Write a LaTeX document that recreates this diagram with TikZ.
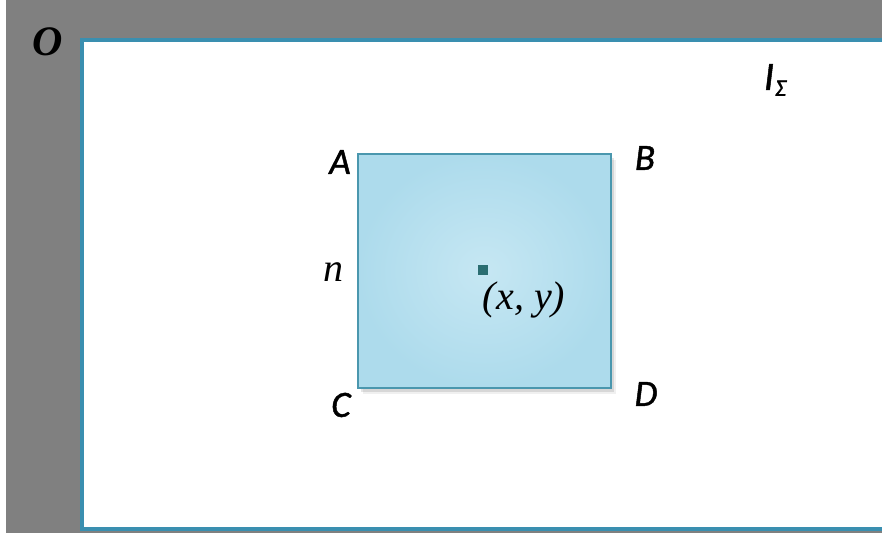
\documentclass[tikz,border=0pt]{standalone}
\usepackage{fontspec}
\newfontfamily\calfont[FakeBold=1.2]{Carlito}
\newfontfamily\serfont{Liberation Serif}
\definecolor{bggray}{HTML}{808080}
\definecolor{frameblue}{HTML}{3A8FB0}
\definecolor{sqedge}{HTML}{4A97AE}
\definecolor{sqin}{HTML}{C6E7F3}
\definecolor{sqout}{HTML}{ADDBEC}
\definecolor{dotc}{HTML}{2B6E72}
\tikzset{
  cornerlbl/.style={font=\calfont\itshape\fontsize{37}{37}\selectfont, inner sep=0pt},
  serlbl/.style={font=\serfont\itshape\fontsize{40}{40}\selectfont, inner sep=0pt},
}
\begin{document}
\begin{tikzpicture}[x=1pt,y=-1pt]
\useasboundingbox (0,0) rectangle (882,533);
\fill[white] (0,0) rectangle (882,533);
\fill[bggray] (6,0) rectangle (882,533);
\draw[frameblue, line width=4pt, fill=white] (82,40) rectangle (890,529);
% shadow
\fill[black, opacity=0.10] (361,158) rectangle (614,392);
\fill[black, opacity=0.06] (363,160) rectangle (616,394);
\node[draw=sqedge, line width=1.5pt, inner color=sqin, outer color=sqout,
      minimum width=253pt, minimum height=234pt, anchor=north west, inner sep=0pt]
      (sq) at (357,153) {};
\fill[dotc] (478,265) rectangle (488,275);
\coordinate (p) at (483,270);
\node[serlbl] (xy) at (524,300) {(x, y)};
\node[serlbl] (n) at (333,272) {n};
\node[cornerlbl] (A) at (340,162) {A};
\node[cornerlbl] (B) at (645,158) {B};
\node[cornerlbl] (C) at (341,405) {C};
\node[cornerlbl] (D) at (646,394) {D};
\node[font=\calfont\itshape\fontsize{40}{40}\selectfont, inner sep=0pt] (I) at (775,80) {I\kern1pt\raisebox{-6pt}{\fontsize{24}{24}\selectfont Σ}};
\node[font=\serfont\bfseries\itshape\fontsize{42}{42}\selectfont, inner sep=0pt] (O) at (48,42) {O};
\end{tikzpicture}
\end{document}
